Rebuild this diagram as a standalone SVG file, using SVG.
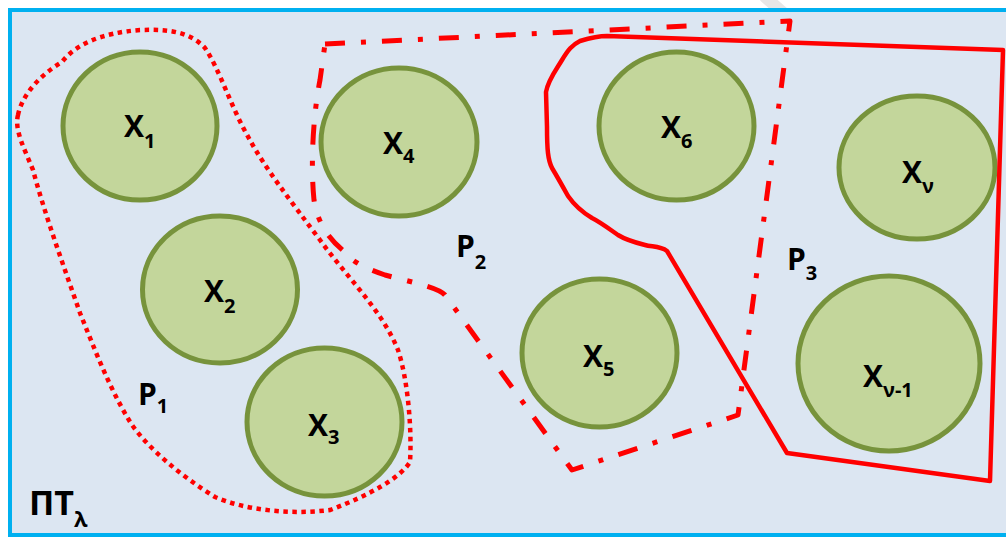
<svg xmlns="http://www.w3.org/2000/svg" width="1006" height="538" viewBox="0 0 1006 538">
  <style>
    .node ellipse { fill: #C3D69B; stroke: #77933C; stroke-width: 5; }
    .lbl { font-family: 'Open Sans', 'Liberation Sans', sans-serif; font-weight: 700; font-size: 30px; fill: #000; }
    .sub { font-size: 20px; }
    .dotted { fill: none; stroke: #FF0000; stroke-width: 4.5; stroke-dasharray: 4.5 4.5; }
    .dashdot { fill: none; stroke: #FF0000; stroke-width: 5; stroke-dasharray: 20 16 5 16; stroke-linejoin: round; }
    .solid { fill: none; stroke: #FF0000; stroke-width: 4.5; stroke-linejoin: round; }
  </style>
  <rect x="0" y="0" width="1006" height="538" fill="#FFFFFF"/>
  <line x1="764" y1="-4" x2="796" y2="24" stroke="#E6E6E6" stroke-width="12"/>
  <rect id="frame" x="10" y="10" width="1010" height="525" fill="#DCE6F2" stroke="#00B0F0" stroke-width="4"/>

  <g id="n-x1" class="node"><ellipse cx="140" cy="126" rx="77" ry="74"/><text class="lbl" x="124" y="137">X<tspan class="sub" dy="11">1</tspan></text></g>
  <g id="n-x2" class="node"><ellipse cx="220" cy="289.5" rx="77.5" ry="73.5"/><text class="lbl" x="204" y="302">X<tspan class="sub" dy="11">2</tspan></text></g>
  <g id="n-x3" class="node"><ellipse cx="324.5" cy="422" rx="77.5" ry="74"/><text class="lbl" x="308" y="436">X<tspan class="sub" dy="8">3</tspan></text></g>
  <g id="n-x4" class="node"><ellipse cx="399" cy="142" rx="78" ry="74"/><text class="lbl" x="383" y="154">X<tspan class="sub" dy="9">4</tspan></text></g>
  <g id="n-x6" class="node"><ellipse cx="676.5" cy="126" rx="77.5" ry="74"/><text class="lbl" x="661" y="138">X<tspan class="sub" dy="10">6</tspan></text></g>
  <g id="n-x5" class="node"><ellipse cx="599.5" cy="353" rx="77.5" ry="74"/><text class="lbl" x="583" y="367">X<tspan class="sub" dy="9">5</tspan></text></g>
  <g id="n-xv" class="node"><ellipse cx="917" cy="167.5" rx="78" ry="71.5"/><text class="lbl" x="902" y="183">X<tspan class="sub" dy="10">ν</tspan></text></g>
  <g id="n-xv1" class="node"><ellipse cx="889" cy="363.5" rx="91" ry="87.5"/><text class="lbl" x="863" y="387">X<tspan class="sub" dy="10">ν-1</tspan></text></g>

  <g id="connectors">
    <path id="p1" class="dotted" d="M 18,115 C 22,95 40,75 62,62 C 75,45 100,33 140,30 C 170,29 190,32 205,48 C 220,70 232,110 250,140 C 265,168 290,200 320,240 C 345,275 382,310 398,350 C 408,380 412,430 410,462 C 400,478 370,495 330,510 C 290,515 245,510 215,497 C 180,475 150,450 132,425 C 110,390 95,350 80,313 C 65,270 45,215 33,170 C 25,150 14,130 18,115 Z"/>
    <path id="p2" class="dashdot" d="M 325,44 L 790,21 L 738,415 L 572,470 L 445,295 C 438,287 410,282 385,275 C 365,268 352,262 345,252 C 330,240 318,225 314,200 C 310,160 314,110 320,80 Z"/>
    <path id="p3" class="solid" d="M 607,36 L 1003,50 L 990,481 L 787,453 L 667,251 C 660,246 652,247 645,245 C 633,242 626,240 618,235 C 608,228 600,222 592,218 C 582,212 575,206 568,196 C 563,187 558,178 552,168 C 548,160 547,150 547,127 L 546,92 C 548,80 556,70 562,60 C 568,50 572,45 580,41 C 590,38 598,36 607,36 Z"/>
  </g>

  <g id="labels">
    <text class="lbl" x="138" y="405">P<tspan class="sub" dy="8">1</tspan></text>
    <text class="lbl" x="456" y="257">P<tspan class="sub" dy="12">2</tspan></text>
    <text class="lbl" x="787" y="270">P<tspan class="sub" dy="10">3</tspan></text>
    <text class="lbl" x="29" y="515" style="font-size:34px">ΠΤ<tspan class="sub" dy="12" style="font-size:22px">λ</tspan></text>
  </g>
</svg>
